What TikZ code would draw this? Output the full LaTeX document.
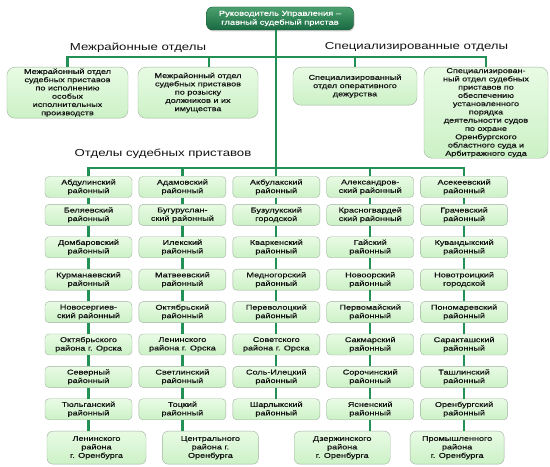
\documentclass[tikz,border=0pt]{standalone}
\usepackage{fontspec}
\newfontfamily\orgfont{Liberation Sans}[FakeStretch=1.3]
\newfontfamily\boxfont{Liberation Sans}[FakeStretch=1.3, FakeBold=0.6]
\usepackage{xcolor}
\definecolor{LinkGreen}{RGB}{35,145,85}
\definecolor{BossTop}{RGB}{75,160,110}
\definecolor{BossBottom}{RGB}{25,105,65}
\definecolor{BoxTop}{RGB}{232,251,228}
\definecolor{BoxBottom}{RGB}{204,241,198}
\definecolor{BoxEdge}{RGB}{160,178,160}
\definecolor{InkDark}{RGB}{20,20,20}
\usepackage{tikz}
\usetikzlibrary{positioning,shadows}

\begin{document}
\begin{tikzpicture}[x=1bp, y=-1bp,
  node distance=11bp and 6.5bp,
  boss/.style={rectangle, rounded corners=6bp, draw=BossBottom!80!black,
               top color=BossTop, bottom color=BossBottom,
               minimum width=147bp, minimum height=23bp, inner sep=1bp,
               align=center, text=white, font=\boxfont\fontsize{7.2}{9}\selectfont,
               drop shadow={opacity=0.35, shadow xshift=1bp, shadow yshift=-1.5bp}},
  head/.style={font=\orgfont\fontsize{10.2}{12}\selectfont, text=InkDark, inner sep=0pt},
  dept/.style={rectangle, rounded corners=8bp, draw=BoxEdge, top color=BoxTop,
               bottom color=BoxBottom, align=center, inner sep=1bp, anchor=north,
               font=\boxfont\fontsize{7}{8.3}\selectfont, text=InkDark},
  unit/.style={rectangle, rounded corners=4bp, draw=BoxEdge, top color=BoxTop,
               bottom color=BoxBottom, minimum width=87bp, minimum height=21bp,
               align=center, inner sep=1bp,
               font=\boxfont\fontsize{7}{8.5}\selectfont, text=InkDark},
  city/.style={unit, minimum height=33bp, minimum width=96bp, rounded corners=6bp},
  link/.style={line width=2.2bp, color=LinkGreen}
]
  \path[use as bounding box, fill=white] (0,0) rectangle (550,467);

  % head of the office
  \node[boss] (boss) at (280,18.5) {Руководитель Управления –\\главный судебный пристав};

  % section titles
  \node[head] (h1) at (138,47.5) {Межрайонные отделы};
  \node[head] (h2) at (416.5,47.5) {Специализированные отделы};
  \node[head] (h3) at (163,154) {Отделы судебных приставов};

  % interdistrict and special departments
  \node[dept, minimum width=121bp, minimum height=51bp] (m1) at (67.5,67)
    {Межрайонный отдел\\судебных приставов\\по исполнению\\особых\\исполнительных\\производств};
  \node[dept, minimum width=120bp, minimum height=51bp] (m2) at (198,67)
    {Межрайонный отдел\\судебных приставов\\по розыску\\должников и их\\имущества};
  \node[dept, minimum width=124bp, minimum height=38bp] (sp1) at (355,67)
    {Специализированный\\отдел оперативного\\дежурства};
  \node[dept, minimum width=124bp, minimum height=91bp] (sp2) at (486,67)
    {Специализирован-\\ный отдел судебных\\приставов по\\обеспечению\\установленного\\порядка\\деятельности судов\\по охране\\Оренбургского\\областного суда и\\Арбитражного суда};

  % district offices, first row
  \node[unit] (a1) at (88.5,187) {Абдулинский\\районный};
  \node[unit, right=of a1] (b1) {Адамовский\\районный};
  \node[unit, right=of b1] (c1) {Акбулакский\\районный};
  \node[unit, right=of c1] (d1) {Александров-\\ский районный};
  \node[unit, right=of d1] (e1) {Асекеевский\\районный};

  % column 1
  \node[unit, below=6.5bp of a1] (a2) {Беляевский\\районный};
  \node[unit, below=of a2] (a3) {Домбаровский\\районный};
  \node[unit, below=of a3] (a4) {Курманаевский\\районный};
  \node[unit, below=of a4] (a5) {Новосергиев-\\ский районный};
  \node[unit, below=of a5] (a6) {Октябрьского\\района г. Орска};
  \node[unit, below=of a6] (a7) {Северный\\районный};
  \node[unit, below=of a7] (a8) {Тюльганский\\районный};
  \node[city, below=of a8, xshift=8bp, minimum width=99bp] (a9) {Ленинского\\района\\г. Оренбурга};

  % column 2
  \node[unit, below=6.5bp of b1] (b2) {Бугуруслан-\\ский районный};
  \node[unit, below=of b2] (b3) {Илекский\\районный};
  \node[unit, below=of b3] (b4) {Матвеевский\\районный};
  \node[unit, below=of b4] (b5) {Октябрьский\\районный};
  \node[unit, below=of b5] (b6) {Ленинского\\района г. Орска};
  \node[unit, below=of b6] (b7) {Светлинский\\районный};
  \node[unit, below=of b7] (b8) {Тоцкий\\районный};
  \node[city, below=of b8, xshift=28bp] (b9) {Центрального\\района г.\\Оренбурга};

  % column 3
  \node[unit, below=6.5bp of c1] (c2) {Бузулукский\\городской};
  \node[unit, below=of c2] (c3) {Кваркенский\\районный};
  \node[unit, below=of c3] (c4) {Медногорский\\районный};
  \node[unit, below=of c4] (c5) {Переволоцкий\\районный};
  \node[unit, below=of c5] (c6) {Советского\\района г. Орска};
  \node[unit, below=of c6] (c7) {Соль-Илецкий\\районный};
  \node[unit, below=of c7] (c8) {Шарлыкский\\районный};

  % column 4
  \node[unit, below=6.5bp of d1] (d2) {Красногвардей\\ский районный};
  \node[unit, below=of d2] (d3) {Гайский\\районный};
  \node[unit, below=of d3] (d4) {Новоорский\\районный};
  \node[unit, below=of d4] (d5) {Первомайский\\районный};
  \node[unit, below=of d5] (d6) {Сакмарский\\районный};
  \node[unit, below=of d6] (d7) {Сорочинский\\районный};
  \node[unit, below=of d7] (d8) {Ясненский\\районный};
  \node[city, below=of d8, xshift=-28bp] (d9) {Дзержинского\\района\\г. Оренбурга};

  % column 5
  \node[unit, below=6.5bp of e1] (e2) {Грачевский\\районный};
  \node[unit, below=of e2] (e3) {Кувандыкский\\районный};
  \node[unit, below=of e3] (e4) {Новотроицкий\\городской};
  \node[unit, below=of e4] (e5) {Пономаревский\\районный};
  \node[unit, below=of e5] (e6) {Саракташский\\районный};
  \node[unit, below=of e6] (e7) {Ташлинский\\районный};
  \node[unit, below=of e7] (e8) {Оренбургский\\районный};
  \node[city, below=of e8, xshift=-7bp, minimum width=94bp] (e9) {Промышленного\\района\\г. Оренбурга};

  % trunk and buses
  \coordinate (mbus) at (276,57);
  \coordinate (gbus) at (276,168);
  \draw[link] (c1.north |- boss.south) -- (c1.north);
  \draw[link] (m1.north) -- (m1.north |- mbus) -- (sp2.north |- mbus) -- (sp2.north);
  \draw[link] ([xshift=11bp]m2.north) -- ([xshift=11bp]m2.north |- mbus);
  \draw[link] (sp1.north) -- (sp1.north |- mbus);
  \draw[link] (a1.north) -- (a1.north |- gbus) -- (e1.north |- gbus) -- (e1.north);
  \draw[link] (b1.north) -- (b1.north |- gbus);
  \draw[link] (d1.north) -- (d1.north |- gbus);

  % columns
  \draw[link] (a1)--(a2); \draw[link] (a2)--(a3); \draw[link] (a3)--(a4);
  \draw[link] (a4)--(a5); \draw[link] (a5)--(a6); \draw[link] (a6)--(a7);
  \draw[link] (a7)--(a8); \draw[link] (a8.south)--(a8.south |- a9.north);
  \draw[link] (b1)--(b2); \draw[link] (b2)--(b3); \draw[link] (b3)--(b4);
  \draw[link] (b4)--(b5); \draw[link] (b5)--(b6); \draw[link] (b6)--(b7);
  \draw[link] (b7)--(b8); \draw[link] (b8.south)--(b8.south |- b9.north);
  \draw[link] (c1)--(c2); \draw[link] (c2)--(c3); \draw[link] (c3)--(c4);
  \draw[link] (c4)--(c5); \draw[link] (c5)--(c6); \draw[link] (c6)--(c7);
  \draw[link] (c7)--(c8);
  \draw[link] (d1)--(d2); \draw[link] (d2)--(d3); \draw[link] (d3)--(d4);
  \draw[link] (d4)--(d5); \draw[link] (d5)--(d6); \draw[link] (d6)--(d7);
  \draw[link] (d7)--(d8); \draw[link] (d8.south)--(d8.south |- d9.north);
  \draw[link] (e1)--(e2); \draw[link] (e2)--(e3); \draw[link] (e3)--(e4);
  \draw[link] (e4)--(e5); \draw[link] (e5)--(e6); \draw[link] (e6)--(e7);
  \draw[link] (e7)--(e8); \draw[link] (e8.south)--(e8.south |- e9.north);
\end{tikzpicture}
\end{document}
